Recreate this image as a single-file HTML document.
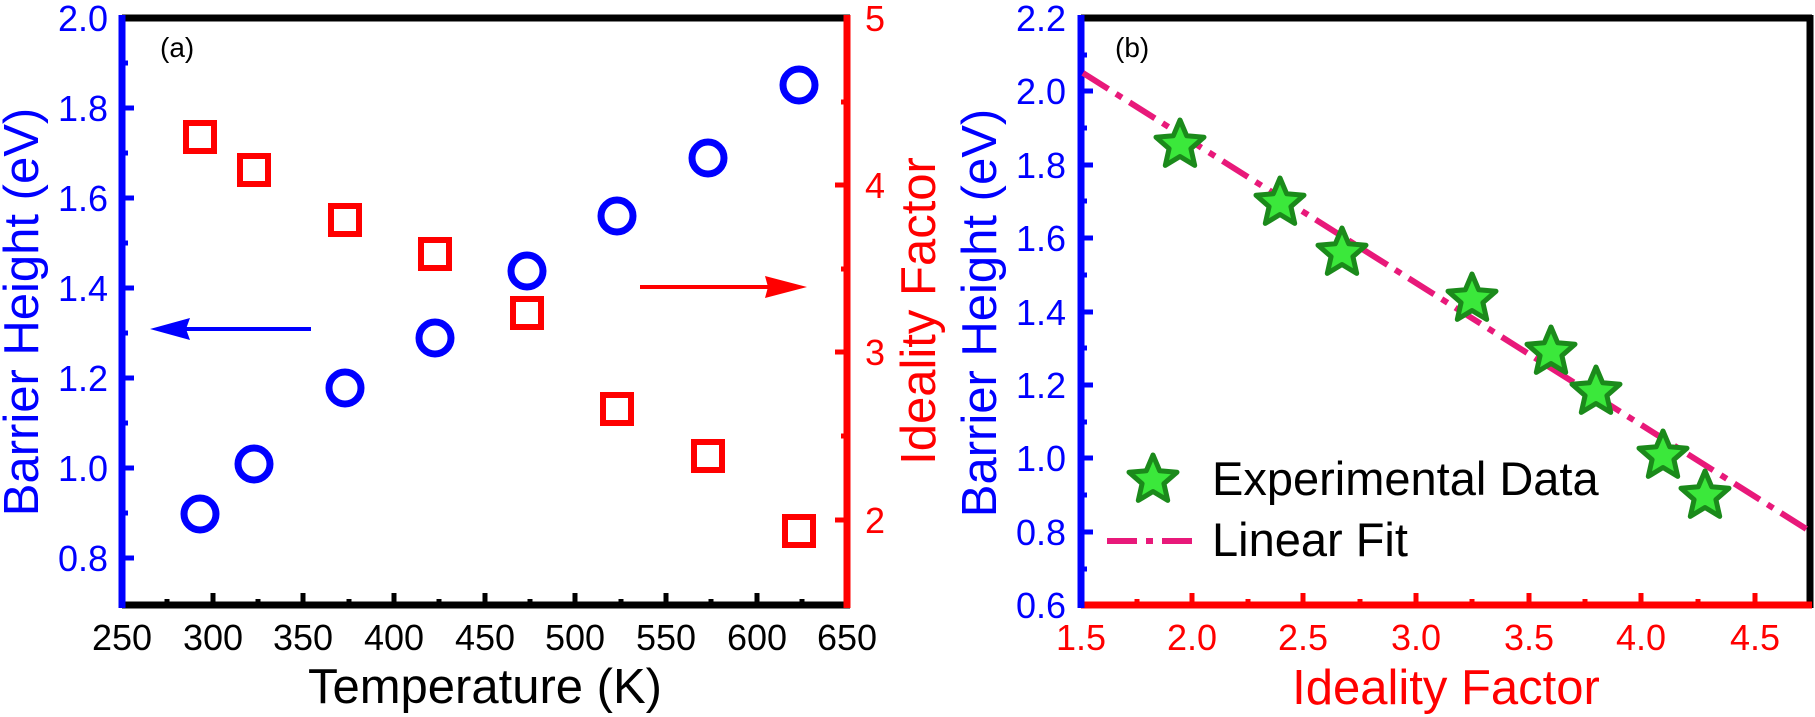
<!DOCTYPE html>
<html><head><meta charset="utf-8"><style>
html,body{margin:0;padding:0;background:#fff}
svg{display:block}
text{font-family:"Liberation Sans",Arial,sans-serif}
</style></head><body>
<svg width="1815" height="717" viewBox="0 0 1815 717" xmlns="http://www.w3.org/2000/svg">
<g>
<line x1="122" y1="18" x2="850" y2="18" stroke="#000" stroke-width="7"/>
<line x1="122" y1="605" x2="850" y2="605" stroke="#000" stroke-width="7"/>
<line x1="847" y1="15" x2="847" y2="608" stroke="#f00" stroke-width="7"/>
<line x1="122" y1="15" x2="122" y2="608" stroke="#00f" stroke-width="7"/>
<g stroke="#00f" stroke-width="5">
<line x1="122" y1="108" x2="134" y2="108"/><line x1="122" y1="198" x2="134" y2="198"/>
<line x1="122" y1="288" x2="134" y2="288"/><line x1="122" y1="378" x2="134" y2="378"/>
<line x1="122" y1="468" x2="134" y2="468"/><line x1="122" y1="558" x2="134" y2="558"/>
<line x1="122" y1="63" x2="128" y2="63"/><line x1="122" y1="153" x2="128" y2="153"/>
<line x1="122" y1="243" x2="128" y2="243"/><line x1="122" y1="333" x2="128" y2="333"/>
<line x1="122" y1="423" x2="128" y2="423"/><line x1="122" y1="513" x2="128" y2="513"/>
</g>
<g stroke="#000" stroke-width="5">
<line x1="213" y1="605" x2="213" y2="593"/><line x1="303" y1="605" x2="303" y2="593"/>
<line x1="394" y1="605" x2="394" y2="593"/><line x1="485" y1="605" x2="485" y2="593"/>
<line x1="575" y1="605" x2="575" y2="593"/><line x1="666" y1="605" x2="666" y2="593"/>
<line x1="757" y1="605" x2="757" y2="593"/>
<line x1="167" y1="605" x2="167" y2="599"/><line x1="258" y1="605" x2="258" y2="599"/>
<line x1="349" y1="605" x2="349" y2="599"/><line x1="439" y1="605" x2="439" y2="599"/>
<line x1="530" y1="605" x2="530" y2="599"/><line x1="621" y1="605" x2="621" y2="599"/>
<line x1="711" y1="605" x2="711" y2="599"/><line x1="802" y1="605" x2="802" y2="599"/>
</g>
<g stroke="#f00" stroke-width="5">
<line x1="847" y1="185" x2="835" y2="185"/><line x1="847" y1="352" x2="835" y2="352"/>
<line x1="847" y1="520" x2="835" y2="520"/>
<line x1="847" y1="102" x2="841" y2="102"/><line x1="847" y1="269" x2="841" y2="269"/>
<line x1="847" y1="436" x2="841" y2="436"/>
</g>
<g fill="#00f" font-size="36" text-anchor="end">
<text x="108" y="31">2.0</text><text x="108" y="121">1.8</text><text x="108" y="211">1.6</text>
<text x="108" y="301">1.4</text><text x="108" y="391">1.2</text><text x="108" y="481">1.0</text>
<text x="108" y="571">0.8</text>
</g>
<g fill="#f00" font-size="36">
<text x="865" y="31">5</text><text x="865" y="198">4</text><text x="865" y="365">3</text><text x="865" y="533">2</text>
</g>
<g fill="#000" font-size="36" text-anchor="middle">
<text x="122" y="650">250</text><text x="213" y="650">300</text><text x="303" y="650">350</text>
<text x="394" y="650">400</text><text x="485" y="650">450</text><text x="575" y="650">500</text>
<text x="666" y="650">550</text><text x="757" y="650">600</text><text x="847" y="650">650</text>
</g>
<text x="485" y="703" font-size="49" text-anchor="middle" fill="#000">Temperature (K)</text>
<text transform="translate(38,312) rotate(-90)" font-size="49" text-anchor="middle" fill="#00f">Barrier Height (eV)</text>
<text transform="translate(935,311) rotate(-90)" font-size="49" text-anchor="middle" fill="#f00">Ideality Factor</text>
<text x="160" y="57" font-size="28" fill="#000">(a)</text>
<g fill="none" stroke="#00f" stroke-width="7">
<circle cx="200" cy="514" r="16"/><circle cx="254" cy="464" r="16"/><circle cx="345" cy="388" r="16"/>
<circle cx="435" cy="338" r="16"/><circle cx="527" cy="271" r="16"/><circle cx="617" cy="216" r="16"/>
<circle cx="708" cy="158" r="16"/><circle cx="799" cy="85" r="16"/>
</g>
<g fill="none" stroke="#f00" stroke-width="6">
<rect x="186" y="123" width="28" height="28"/><rect x="240" y="156" width="28" height="28"/>
<rect x="331" y="206" width="28" height="28"/><rect x="421" y="240" width="28" height="28"/>
<rect x="513" y="299" width="28" height="28"/><rect x="603" y="395" width="28" height="28"/>
<rect x="694" y="442" width="28" height="28"/><rect x="785" y="517" width="28" height="28"/>
</g>
<line x1="311" y1="329" x2="180" y2="329" stroke="#00f" stroke-width="4"/>
<polygon points="150,329 190,318 186,329 190,340" fill="#00f"/>
<line x1="640" y1="287" x2="775" y2="287" stroke="#f00" stroke-width="4"/>
<polygon points="807,287 765,276 768,287 765,298" fill="#f00"/>
</g>
<g>
<line x1="1081" y1="18" x2="1812" y2="18" stroke="#000" stroke-width="7"/>
<line x1="1810" y1="15" x2="1810" y2="608" stroke="#000" stroke-width="7"/>
<line x1="1081" y1="605" x2="1812" y2="605" stroke="#f00" stroke-width="7"/>
<line x1="1081" y1="15" x2="1081" y2="608" stroke="#00f" stroke-width="7"/>
<g stroke="#00f" stroke-width="5">
<line x1="1081" y1="91" x2="1093" y2="91"/><line x1="1081" y1="165" x2="1093" y2="165"/>
<line x1="1081" y1="238" x2="1093" y2="238"/><line x1="1081" y1="312" x2="1093" y2="312"/>
<line x1="1081" y1="385" x2="1093" y2="385"/><line x1="1081" y1="458" x2="1093" y2="458"/>
<line x1="1081" y1="532" x2="1093" y2="532"/>
<line x1="1081" y1="55" x2="1087" y2="55"/><line x1="1081" y1="128" x2="1087" y2="128"/>
<line x1="1081" y1="201" x2="1087" y2="201"/><line x1="1081" y1="275" x2="1087" y2="275"/>
<line x1="1081" y1="348" x2="1087" y2="348"/><line x1="1081" y1="422" x2="1087" y2="422"/>
<line x1="1081" y1="495" x2="1087" y2="495"/><line x1="1081" y1="569" x2="1087" y2="569"/>
</g>
<g stroke="#f00" stroke-width="5">
<line x1="1192" y1="605" x2="1192" y2="593"/><line x1="1303" y1="605" x2="1303" y2="593"/>
<line x1="1416" y1="605" x2="1416" y2="593"/><line x1="1529" y1="605" x2="1529" y2="593"/>
<line x1="1641" y1="605" x2="1641" y2="593"/><line x1="1755" y1="605" x2="1755" y2="593"/>
<line x1="1137" y1="605" x2="1137" y2="599"/><line x1="1248" y1="605" x2="1248" y2="599"/>
<line x1="1360" y1="605" x2="1360" y2="599"/><line x1="1472" y1="605" x2="1472" y2="599"/>
<line x1="1585" y1="605" x2="1585" y2="599"/><line x1="1698" y1="605" x2="1698" y2="599"/>
</g>
<g fill="#00f" font-size="36" text-anchor="end">
<text x="1066" y="31">2.2</text><text x="1066" y="104">2.0</text><text x="1066" y="178">1.8</text>
<text x="1066" y="251">1.6</text><text x="1066" y="325">1.4</text><text x="1066" y="398">1.2</text>
<text x="1066" y="471">1.0</text><text x="1066" y="545">0.8</text><text x="1066" y="618">0.6</text>
</g>
<g fill="#f00" font-size="36" text-anchor="middle">
<text x="1081" y="650">1.5</text><text x="1192" y="650">2.0</text><text x="1303" y="650">2.5</text>
<text x="1416" y="650">3.0</text><text x="1529" y="650">3.5</text><text x="1641" y="650">4.0</text>
<text x="1755" y="650">4.5</text>
</g>
<text x="1446" y="704" font-size="49" text-anchor="middle" fill="#f00">Ideality Factor</text>
<text transform="translate(996,313) rotate(-90)" font-size="49" text-anchor="middle" fill="#00f">Barrier Height (eV)</text>
<text x="1115" y="57" font-size="28" fill="#000">(b)</text>
<line x1="1083" y1="73" x2="1808" y2="530" stroke="#e8197a" stroke-width="6" stroke-dasharray="30,9,7,9"/>
<defs>
<polygon id="st" points="0,-25 6.7,-9.2 24,-7.8 10.9,3.6 14.7,20.4 0,11.5 -14.7,20.4 -10.9,3.6 -24,-7.8 -6.7,-9.2" fill="#3be83b" stroke="#1b8a1b" stroke-width="5" stroke-linejoin="round"/>
</defs>
<use href="#st" x="1180" y="145"/><use href="#st" x="1280" y="203"/><use href="#st" x="1342" y="253"/>
<use href="#st" x="1472" y="299"/><use href="#st" x="1551" y="352"/><use href="#st" x="1596" y="392"/>
<use href="#st" x="1663" y="456"/><use href="#st" x="1705" y="496"/>
<use href="#st" x="1153" y="480"/>
<text x="1212" y="495" font-size="47" fill="#000">Experimental Data</text>
<line x1="1107" y1="541" x2="1195" y2="541" stroke="#e8197a" stroke-width="6" stroke-dasharray="30,9,7,9"/>
<text x="1212" y="556" font-size="47" fill="#000">Linear Fit</text>
</g>
</svg>
</body></html>
